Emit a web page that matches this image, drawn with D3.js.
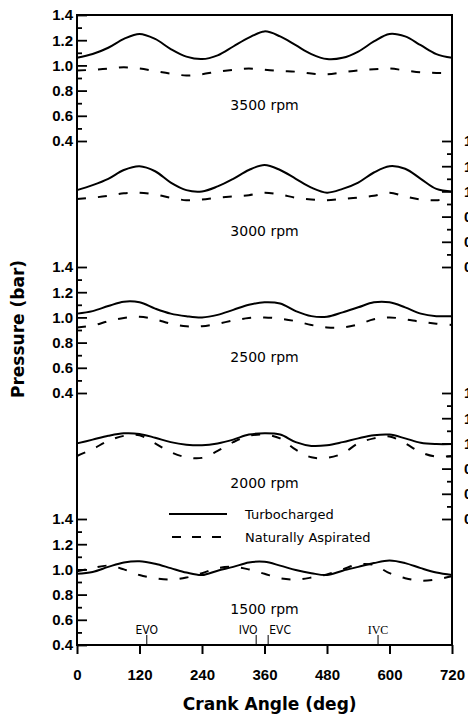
<!DOCTYPE html>
<html lang="en">
  <head>
    <meta charset="UTF-8" />
    <title>pressure</title>
    <script src="https://cdn.jsdelivr.net/npm/d3@7"></script>
    <style>
      body { margin: 0; background: #fff; }
      text { fill: #000; }
    </style>
  </head>
  <body>
    <div id="wrapper"></div>
    <script>
      // crank angle samples (deg)
      const crankAngles = [0, 30, 60, 90, 120, 150, 180, 210, 240, 270, 300, 330, 360,
        390, 420, 450, 480, 510, 540, 570, 600, 630, 660, 690, 720];

      const speeds = ["3500 rpm", "3000 rpm", "2500 rpm", "2000 rpm", "1500 rpm"];

      // turbocharged intake pressure (bar)
      const tc3500 = [1.06, 1.09, 1.14, 1.21, 1.25, 1.21, 1.13, 1.07, 1.05, 1.08, 1.15, 1.22, 1.27,
        1.23, 1.16, 1.09, 1.05, 1.06, 1.11, 1.19, 1.25, 1.23, 1.16, 1.09, 1.06];
      const tc3000 = [1.01, 1.05, 1.10, 1.17, 1.20, 1.16, 1.07, 1.01, 1.00, 1.04, 1.10, 1.17, 1.21,
        1.17, 1.10, 1.03, 0.99, 1.02, 1.07, 1.15, 1.20, 1.18, 1.10, 1.02, 1.00];
      const tc2500 = [1.03, 1.05, 1.09, 1.125, 1.12, 1.07, 1.03, 1.01, 1.00, 1.02, 1.06, 1.10, 1.12,
        1.11, 1.05, 1.01, 1.005, 1.04, 1.08, 1.12, 1.12, 1.08, 1.03, 1.01, 1.01];
      const tc2000 = [1.00, 1.03, 1.06, 1.08, 1.075, 1.045, 1.01, 0.99, 0.985, 1.00, 1.03, 1.07, 1.08,
        1.07, 1.01, 0.98, 0.985, 1.01, 1.04, 1.065, 1.07, 1.04, 1.005, 0.995, 0.995];
      const tc1500 = [0.965, 0.98, 1.02, 1.055, 1.065, 1.045, 1.01, 0.975, 0.955, 0.99, 1.02, 1.055, 1.06,
        1.03, 0.995, 0.97, 0.955, 0.99, 1.02, 1.05, 1.07, 1.05, 1.01, 0.975, 0.955];

      // naturally aspirated intake pressure (bar)
      const na3500 = [0.96, 0.965, 0.975, 0.985, 0.975, 0.955, 0.935, 0.92, 0.93, 0.95, 0.965, 0.975, 0.965,
        0.955, 0.95, 0.935, 0.93, 0.945, 0.96, 0.97, 0.975, 0.96, 0.945, 0.94, 0.94];
      const na3000 = [0.94, 0.95, 0.965, 0.985, 0.99, 0.975, 0.95, 0.93, 0.935, 0.95, 0.96, 0.97, 0.99,
        0.975, 0.95, 0.935, 0.93, 0.94, 0.95, 0.965, 0.99, 0.96, 0.935, 0.93, 0.945];
      const na2500 = [0.92, 0.935, 0.97, 0.995, 1.005, 0.985, 0.95, 0.93, 0.93, 0.95, 0.975, 0.995, 1.00,
        0.99, 0.97, 0.94, 0.92, 0.92, 0.945, 0.985, 1.00, 0.985, 0.965, 0.95, 0.94];
      const na2000 = [0.90, 0.955, 1.02, 1.06, 1.065, 1.00, 0.93, 0.89, 0.885, 0.94, 1.01, 1.06, 1.07,
        1.04, 0.95, 0.89, 0.885, 0.92, 1.00, 1.04, 1.055, 1.00, 0.93, 0.895, 0.90];
      const na1500 = [0.985, 1.01, 1.03, 1.00, 0.955, 0.93, 0.92, 0.935, 0.97, 1.01, 1.02, 1.00, 0.965,
        0.93, 0.92, 0.935, 0.96, 1.00, 1.04, 1.035, 0.97, 0.93, 0.91, 0.92, 0.945];

      const turbo = [tc3500, tc3000, tc2500, tc2000, tc1500];
      const natural = [na3500, na3000, na2500, na2000, na1500];

      const xTicks = [0, 120, 240, 360, 480, 600, 720];
      const yMajorTicks = [0.4, 0.6, 0.8, 1.0, 1.2, 1.4];
      const yMinorTicks = [0.5, 0.7, 0.9, 1.1, 1.3];

      // valve events
      const valveNames = ["EVO", "IVO", "EVC", "IVC"];
      const valveAngles = [134, 344, 367, 578];

      let dimensions = {
        width: 468,
        height: 717,
        margin: { top: 15, right: 15, bottom: 72, left: 77 },
      };
      dimensions.boundedWidth = 375;
      dimensions.panelHeight = 126;
      dimensions.boundedHeight = dimensions.panelHeight * speeds.length;

      const svg = d3
        .select("#wrapper")
        .append("svg")
        .attr("width", dimensions.width)
        .attr("height", dimensions.height)
        .style("font-family", "'DejaVu Sans', Verdana, sans-serif");

      const bounds = svg
        .append("g")
        .attr("transform", `translate(${dimensions.margin.left},${dimensions.margin.top})`);

      const xScale = d3.scaleLinear().domain([0, 720]).range([0, dimensions.boundedWidth]);

      const panelScale = (k) =>
        d3
          .scaleLinear()
          .domain([0.4, 1.4])
          .range([dimensions.panelHeight * (k + 1), dimensions.panelHeight * k]);

      // curves
      speeds.forEach((label, k) => {
        const yScale = panelScale(k);
        const lineGenerator = d3
          .line()
          .x((d, i) => xScale(crankAngles[i]))
          .y((d) => yScale(d))
          .curve(d3.curveCatmullRom);

        bounds
          .append("path")
          .attr("d", lineGenerator(natural[k]))
          .attr("fill", "none")
          .attr("stroke", "#000")
          .attr("stroke-width", 2)
          .attr("stroke-dasharray", "9,12");

        bounds
          .append("path")
          .attr("d", lineGenerator(turbo[k]))
          .attr("fill", "none")
          .attr("stroke", "#000")
          .attr("stroke-width", 2);

        bounds
          .append("text")
          .attr("x", xScale(360))
          .attr("y", yScale(0.645))
          .attr("text-anchor", "middle")
          .style("font-size", "14px")
          .text(label);

        // y axes alternate left / right
        const left = k % 2 === 0;
        const axisMajor = (left ? d3.axisLeft(yScale) : d3.axisRight(yScale))
          .tickValues(yMajorTicks)
          .tickSize(-10)
          .tickPadding(left ? 4 : 12)
          .tickFormat(d3.format(".1f"));
        const axisMinor = (left ? d3.axisLeft(yScale) : d3.axisRight(yScale))
          .tickValues(yMinorTicks)
          .tickSize(-5)
          .tickFormat("");

        const gx = left ? 0 : dimensions.boundedWidth;
        const g = bounds.append("g").attr("transform", `translate(${gx},0)`).call(axisMajor);
        bounds.append("g").attr("transform", `translate(${gx},0)`).call(axisMinor)
          .select(".domain").remove();
        g.select(".domain").remove();
        g.selectAll("text")
          .style("font-size", "15px")
          .style("font-weight", "bold");
      });

      bounds.selectAll(".tick line").attr("stroke-width", 1.8);

      // frame
      bounds
        .append("rect")
        .attr("width", dimensions.boundedWidth)
        .attr("height", dimensions.boundedHeight)
        .attr("fill", "none")
        .attr("stroke", "#000")
        .attr("stroke-width", 2);

      // x axis
      const xAxisGenerator = d3
        .axisBottom(xScale)
        .tickValues(xTicks)
        .tickSize(9)
        .tickPadding(15)
        .tickFormat(d3.format("d"));
      const xAxis = bounds
        .append("g")
        .attr("transform", `translate(0,${dimensions.boundedHeight})`)
        .call(xAxisGenerator);
      xAxis.select(".domain").remove();
      xAxis.selectAll("line").attr("stroke-width", 2);
      xAxis.selectAll("text").style("font-size", "15px").style("font-weight", "bold");

      bounds
        .append("text")
        .attr("x", xScale(370))
        .attr("y", dimensions.boundedHeight + 65)
        .attr("text-anchor", "middle")
        .style("font-size", "17px")
        .style("font-weight", "bold")
        .text("Crank Angle (deg)");

      svg
        .append("text")
        .attr("transform", `translate(24,${dimensions.margin.top + 314}) rotate(-90)`)
        .attr("text-anchor", "middle")
        .style("font-size", "17px")
        .style("font-weight", "bold")
        .text("Pressure (bar)");

      // valve event markers
      const valveOffsets = [0, -8, 12, 0];
      valveNames.forEach((name, i) => {
        const vx = xScale(valveAngles[i]);
        bounds
          .append("line")
          .attr("x1", vx)
          .attr("x2", vx)
          .attr("y1", dimensions.boundedHeight - 10)
          .attr("y2", dimensions.boundedHeight)
          .attr("stroke", "#000")
          .attr("stroke-width", 1);
        bounds
          .append("text")
          .attr("x", vx + valveOffsets[i])
          .attr("y", dimensions.boundedHeight - 11)
          .attr("text-anchor", "middle")
          .style("font-size", "12px")
          .style("font-family", name === "IVC" ? "'Liberation Serif', serif" : "'DejaVu Sans Condensed', sans-serif")
          .text(name);
      });

      // legend
      const legend = bounds.append("g");
      const legendItems = [
        { label: "Turbocharged", dash: null },
        { label: "Naturally Aspirated", dash: "9,11" },
      ];
      legendItems.forEach((item, i) => {
        const ly = 499 + i * 23;
        legend
          .append("line")
          .attr("x1", 92)
          .attr("x2", 150)
          .attr("y1", ly)
          .attr("y2", ly)
          .attr("stroke", "#000")
          .attr("stroke-width", 2)
          .attr("stroke-dasharray", item.dash)
          .attr("stroke-dashoffset", item.dash ? -3 : null);
        legend
          .append("text")
          .attr("x", 168)
          .attr("y", ly + 5)
          .style("font-size", "13px")
          .text(item.label);
      });
    </script>
  </body>
</html>
